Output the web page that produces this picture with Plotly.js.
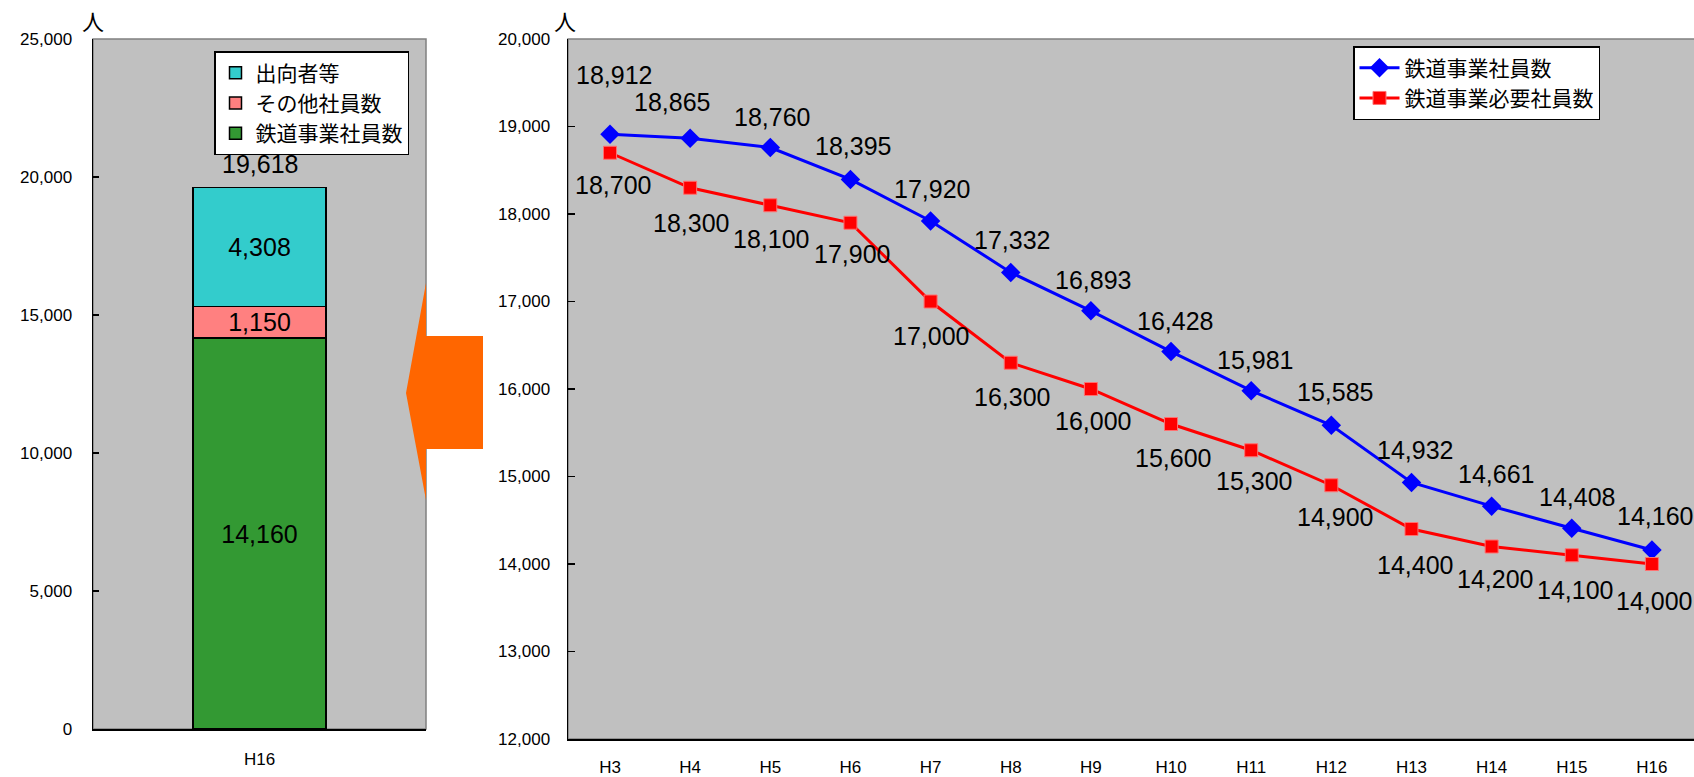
<!DOCTYPE html>
<html>
<head>
<meta charset="utf-8">
<script src="https://cdn.plot.ly/plotly-3.0.1.min.js"></script>
<style>html,body{margin:0;padding:0;background:#fff;}#chart{width:1694px;height:777px;}</style>
</head>
<body>
<div id="chart"></div>
<script>
// ---- data ----
const barCategory = ['H16'];
const railStaff = [14160];      // 鉄道事業社員数
const otherStaff = [1150];      // その他社員数
const secondedStaff = [4308];   // 出向者等

const years = ['H3','H4','H5','H6','H7','H8','H9','H10','H11','H12','H13','H14','H15','H16'];
const railStaffTrend = [18912,18865,18760,18395,17920,17332,16893,16428,15981,15585,14932,14661,14408,14160];
const railStaffRequired = [18700,18300,18100,17900,17000,16300,16000,15600,15300,14900,14400,14200,14100,14000];

// label nudges (pixels)
const blueShiftY = [59,36,31,33,32,32,31,31,31,33,32,32,31,34];
const blueShiftX = [4,-18,2,3,1,1,2,4,4,4,4,4,5,3];
const redShiftY = [-32,-35,-34,-31,-34,-34,-32,-34,-31,-32,-36,-32,-35,-37];
const redShiftX = [3,1,1,2,0,1,2,2,3,4,4,3,3,2];

const W = 1694, H = 777;
const px = v => v / W;
const py = v => 1 - v / H;
const fmt = n => n.toLocaleString('en-US');

const numFont = {family: 'Liberation Sans, Arial, sans-serif', size: 25, color: '#000'};
const cjk = 'Noto Sans CJK JP, sans-serif';

const traces = [
  {type:'bar', x:barCategory, y:railStaff, name:'鉄道事業社員数', xaxis:'x', yaxis:'y', legend:'legend',
   marker:{color:'#339933', line:{color:'#000', width:1.5}}, width:0.4,
   text:railStaff.map(fmt), textposition:'inside', insidetextanchor:'middle', textfont:numFont, constraintext:'none', hoverinfo:'skip'},
  {type:'bar', x:barCategory, y:otherStaff, name:'その他社員数', xaxis:'x', yaxis:'y', legend:'legend',
   marker:{color:'#FF8080', line:{color:'#000', width:1.5}}, width:0.4,
   text:otherStaff.map(fmt), textposition:'inside', insidetextanchor:'middle', textfont:numFont, constraintext:'none', hoverinfo:'skip'},
  {type:'bar', x:barCategory, y:secondedStaff, name:'出向者等', xaxis:'x', yaxis:'y', legend:'legend',
   marker:{color:'#33CCCC', line:{color:'#000', width:1.5}}, width:0.4,
   text:secondedStaff.map(fmt), textposition:'inside', insidetextanchor:'middle', textfont:numFont, constraintext:'none', hoverinfo:'skip'},
  {type:'scatter', mode:'lines+markers', x:years, y:railStaffTrend, name:'鉄道事業社員数', xaxis:'x2', yaxis:'y2', legend:'legend2',
   line:{color:'#0000FF', width:3}, marker:{symbol:'diamond', size:15, color:'#0000FF'}},
  {type:'scatter', mode:'lines+markers', x:years, y:railStaffRequired, name:'鉄道事業必要社員数', xaxis:'x2', yaxis:'y2', legend:'legend2',
   line:{color:'#FF0000', width:3}, marker:{symbol:'square', size:13, color:'#FF0000', line:{color:'#FF7070', width:1}}}
];

const annotations = [];
// total above stacked bar
barCategory.forEach((c, i) => {
  const total = railStaff[i] + otherStaff[i] + secondedStaff[i];
  annotations.push({x:c, y:total, xref:'x', yref:'y', text:fmt(total), showarrow:false, yshift:24, font:numFont});
});
years.forEach((c, i) => {
  annotations.push({x:c, y:railStaffTrend[i], xref:'x2', yref:'y2', text:fmt(railStaffTrend[i]), showarrow:false,
    xshift:blueShiftX[i], yshift:blueShiftY[i], font:numFont});
  annotations.push({x:c, y:railStaffRequired[i], xref:'x2', yref:'y2', text:fmt(railStaffRequired[i]), showarrow:false,
    xshift:redShiftX[i], yshift:redShiftY[i], font:numFont});
});
// unit labels
annotations.push({x:px(80), y:py(2), xref:'paper', yref:'paper', yanchor:'top', text:'人', showarrow:false, font:{family:cjk, size:22, color:'#000'}});
annotations.push({x:px(565), y:py(2), xref:'paper', yref:'paper', yanchor:'top', text:'人', showarrow:false, font:{family:cjk, size:22, color:'#000'}});

const tickFont = {family:'Liberation Sans, Arial, sans-serif', size:17, color:'#000'};

const arrowPath = 'M ' + [[483,336],[426,336],[426,283],[406,393],[426,500],[426,449],[483,449]]
  .map(p => px(p[0]) + ',' + py(p[1])).join(' L ') + ' Z';

const layout = {
  width: W, height: H,
  margin: {l:0, r:0, t:0, b:0},
  paper_bgcolor: '#FFFFFF',
  plot_bgcolor: '#C0C0C0',
  showlegend: true,
  barmode: 'stack',
  font: {family:'Liberation Sans, Arial, sans-serif', color:'#000'},
  xaxis: {domain:[px(93), px(426)], anchor:'y', type:'category', range:[-0.5,0.5],
    showline:true, linecolor:'#000', linewidth:1.5, ticks:'', showgrid:false, zeroline:false,
    tickfont:{family:'Liberation Sans, Arial, sans-serif', size:17}, ticklabelstandoff:14, fixedrange:true},
  yaxis: {domain:[1-729/H, 1-39/H], anchor:'x', range:[0,25000], dtick:5000, tickformat:',d',
    showline:true, linecolor:'#000', linewidth:1.5, ticks:'inside', ticklen:6, tickcolor:'#000', tickwidth:1.5,
    showgrid:false, zeroline:false, tickfont:tickFont, ticklabelstandoff:16, fixedrange:true},
  xaxis2: {domain:[px(568), 1], anchor:'y2', type:'category', range:[-0.524, 13.525],
    showline:true, linecolor:'#000', linewidth:1.5, ticks:'', showgrid:false, zeroline:false,
    tickfont:{family:'Liberation Sans, Arial, sans-serif', size:17}, ticklabelstandoff:12, fixedrange:true},
  yaxis2: {domain:[1-739/H, 1-39/H], anchor:'x2', range:[12000,20000], dtick:1000, tickformat:',d',
    showline:true, linecolor:'#000', linewidth:1.5, ticks:'inside', ticklen:7, tickcolor:'#000', tickwidth:1.5,
    showgrid:false, zeroline:false, tickfont:tickFont, ticklabelstandoff:13, fixedrange:true},
  legend: {x:px(214), y:py(51), xanchor:'left', yanchor:'top', traceorder:'reversed',
    bgcolor:'#FFFFFF', bordercolor:'#000', borderwidth:1.5,
    font:{family:cjk, size:21, color:'#000'}, itemwidth:30, tracegroupgap:0},
  legend2: {x:px(1353), y:py(46), xanchor:'left', yanchor:'top', traceorder:'normal',
    bgcolor:'#FFFFFF', bordercolor:'#000', borderwidth:1.5,
    font:{family:cjk, size:21, color:'#000'}, itemwidth:40},
  shapes: [
    {type:'rect', xref:'x domain', yref:'y domain', x0:0, x1:1, y0:0, y1:1, line:{color:'#808080', width:1.5}, layer:'below'},
    {type:'rect', xref:'x2 domain', yref:'y2 domain', x0:0, x1:1.01, y0:0, y1:1, line:{color:'#808080', width:1.5}, layer:'below'},
    {type:'path', xref:'paper', yref:'paper', path:arrowPath, fillcolor:'#FF6600', line:{width:0}, layer:'above'}
  ],
  annotations: annotations
};

Plotly.newPlot('chart', traces, layout, {displayModeBar:false, staticPlot:true});
</script>
</body>
</html>
